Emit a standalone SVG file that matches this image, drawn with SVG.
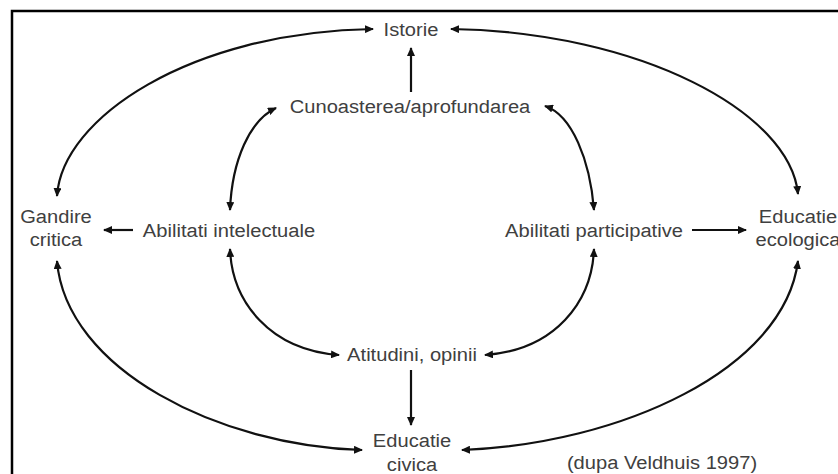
<svg xmlns="http://www.w3.org/2000/svg" width="838" height="474" viewBox="0 0 838 474">
  <defs>
    <style>
      .lbl { font-family: "Liberation Sans", Arial, sans-serif; font-size: 19px; fill: #404040; text-anchor: middle; }
      .conn { fill: none; stroke: #111; stroke-width: 2.2; }
      .frame { fill: none; stroke: #000; stroke-width: 2.5; }
    </style>
    <marker id="ah" viewBox="0 0 9 8" refX="8" refY="4" markerWidth="9" markerHeight="8" markerUnits="userSpaceOnUse" orient="auto-start-reverse">
      <path d="M0,0 L9,4 L0,8 z" fill="#111"/>
    </marker>
  </defs>
  <rect width="838" height="474" fill="#fff"/>
  <path class="frame" d="M12,474 L12,11 L838,11"/>

  <g id="connectors">
    <path class="conn" d="M411,92 L411,48" marker-end="url(#ah)"/>
    <path class="conn" d="M57,196 C62,118 190,32 373,29" marker-start="url(#ah)" marker-end="url(#ah)"/>
    <path class="conn" d="M451,29 C640,32 790,112 798,194" marker-start="url(#ah)" marker-end="url(#ah)"/>
    <path class="conn" d="M57,261 C66,370 220,446 362,450" marker-start="url(#ah)" marker-end="url(#ah)"/>
    <path class="conn" d="M462,450 C620,444 784,370 798,261" marker-start="url(#ah)" marker-end="url(#ah)"/>
    <path class="conn" d="M276,108 C250,120 232,160 230,210" marker-start="url(#ah)" marker-end="url(#ah)"/>
    <path class="conn" d="M545,106 C572,115 590,160 594,210" marker-start="url(#ah)" marker-end="url(#ah)"/>
    <path class="conn" d="M230,249 C232,302 270,350 339,355" marker-start="url(#ah)" marker-end="url(#ah)"/>
    <path class="conn" d="M594,249 C592,302 555,350 485,355" marker-start="url(#ah)" marker-end="url(#ah)"/>
    <path class="conn" d="M411,370 L411,425" marker-end="url(#ah)"/>
    <path class="conn" d="M133,230 L104,230" marker-end="url(#ah)"/>
    <path class="conn" d="M692,230 L746,230" marker-end="url(#ah)"/>
  </g>

  <g id="istorie"><text class="lbl" transform="translate(411,36) scale(1.06,1)">Istorie</text></g>
  <g id="cunoasterea"><text class="lbl" transform="translate(410,113) scale(1.06,1)">Cunoasterea/aprofundarea</text></g>
  <g id="gandire"><text class="lbl" transform="translate(56,223) scale(1.06,1)">Gandire</text><text class="lbl" transform="translate(56,246) scale(1.06,1)">critica</text></g>
  <g id="abilitati-intelectuale"><text class="lbl" transform="translate(229,237) scale(1.06,1)">Abilitati intelectuale</text></g>
  <g id="abilitati-participative"><text class="lbl" transform="translate(594,237) scale(1.06,1)">Abilitati participative</text></g>
  <g id="educatie-ecologica"><text class="lbl" transform="translate(798,223) scale(1.06,1)">Educatie</text><text class="lbl" transform="translate(798,246) scale(1.06,1)">ecologica</text></g>
  <g id="atitudini"><text class="lbl" transform="translate(412,361) scale(1.06,1)">Atitudini, opinii</text></g>
  <g id="educatie-civica"><text class="lbl" transform="translate(412,447) scale(1.06,1)">Educatie</text><text class="lbl" transform="translate(412,471) scale(1.06,1)">civica</text></g>
  <g id="sursa"><text class="lbl" transform="translate(662,469) scale(1.06,1)">(dupa Veldhuis 1997)</text></g>
</svg>
